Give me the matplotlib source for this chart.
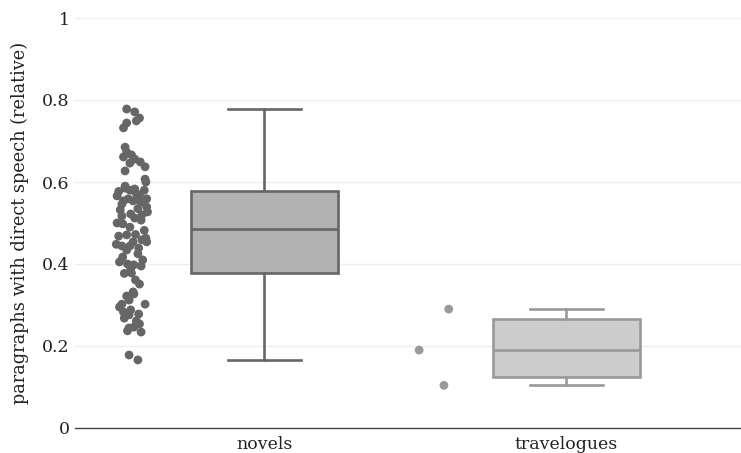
import numpy as np
import matplotlib
matplotlib.use("Agg")
import matplotlib.pyplot as plt

categories = ["novels", "travelogues"]

novels = [0.778, 0.771, 0.756, 0.749, 0.744, 0.732,
          0.685, 0.673, 0.666, 0.661, 0.656, 0.649, 0.637, 0.646, 0.627,
          0.607, 0.600, 0.590, 0.583, 0.580, 0.585, 0.580,
          0.577, 0.568, 0.566, 0.559, 0.559, 0.554, 0.554, 0.554, 0.546, 0.539,
          0.532, 0.527, 0.522, 0.520, 0.517, 0.507, 0.498, 0.490,
          0.572, 0.550, 0.535, 0.512, 0.500,
          0.482, 0.471, 0.468, 0.463, 0.459, 0.454, 0.454, 0.444, 0.444, 0.439,
          0.434, 0.417, 0.410, 0.405, 0.400, 0.398, 0.395, 0.388, 0.377, 0.378,
          0.425, 0.448, 0.472,
          0.361, 0.351, 0.332, 0.322, 0.327, 0.312, 0.302, 0.302, 0.295,
          0.288, 0.283, 0.278, 0.276, 0.268, 0.261, 0.254, 0.246, 0.244, 0.237,
          0.234, 0.178, 0.166]
# horizontal jitter (relative, -1..1)
novels_jitter = [-0.3, 0.2, 0.5, 0.3, -0.3, -0.5,
                 -0.4, -0.3, 0.0, -0.5, 0.2, 0.55, 0.85, -0.1, -0.4,
                 0.85, 0.9, -0.4, 0.2, -0.1, -0.4, 0.8,
                 -0.8, 0.5, -0.9, 0.95, -0.2, -0.5, 0.1, 0.5, -0.6, 0.95,
                 -0.7, 1.0, -0.05, 0.65, -0.6, 0.6, -0.55, -0.1,
                 0.3, 0.75, 0.4, 0.2, -0.9,
                 0.8, -0.3, -0.8, 0.9, 0.65, 0.1, 0.95, -0.6, -0.1, 0.45,
                 -0.3, -0.55, 0.7, -0.75, -0.25, 0.15, 0.6, -0.05, -0.45, 0.0,
                 0.4, -0.95, 0.25,
                 0.25, 0.5, 0.1, -0.3, 0.15, -0.15, -0.6, 0.85, -0.75,
                 -0.05, -0.5, 0.45, -0.15, -0.45, 0.3, 0.5, 0.15, -0.15, -0.25,
                 0.6, -0.15, 0.4]
travelogues = [0.29, 0.19, 0.104]
travelogues_jitter = [0.95, -0.9, 0.65]

colors_line = ["#666666", "#999999"]
colors_fill = ["#b2b2b2", "#cccccc"]
point_colors = ["#666666", "#999999"]

datasets = [novels, travelogues]
jitters = [novels_jitter, travelogues_jitter]

fig = plt.figure(figsize=(7.41, 4.53), dpi=100)
ax = fig.add_axes([75 / 741, 25 / 453, 666 / 741, 410 / 453])

box_w = 0.487
point_off = -0.44
jit_w = 0.053

for i, (d, j) in enumerate(zip(datasets, jitters)):
    arr = np.sort(np.array(d))
    q1, med, q3 = np.percentile(arr, [25, 50, 75], method="hazen")
    iqr = q3 - q1
    lo = arr[arr >= q1 - 1.5 * iqr].min()
    hi = arr[arr <= q3 + 1.5 * iqr].max()
    stats = [dict(med=med, q1=q1, q3=q3, whislo=lo, whishi=hi, fliers=[])]
    lc = colors_line[i]
    ax.bxp(stats, positions=[i], widths=box_w, patch_artist=True,
           showfliers=False,
           boxprops=dict(facecolor=colors_fill[i], edgecolor=lc, linewidth=1.9),
           medianprops=dict(color=lc, linewidth=1.9),
           whiskerprops=dict(color=lc, linewidth=1.9),
           capprops=dict(color=lc, linewidth=1.9),
           capwidths=box_w / 2)
    xs = i + point_off + np.array(j) * jit_w
    ax.scatter(xs, d, s=40, color=point_colors[i], edgecolors="none", zorder=3)

ax.set_xlim(-0.627, 1.578)
ax.set_ylim(0, 1)
ax.set_yticks([0, 0.2, 0.4, 0.6, 0.8, 1])
ax.set_yticklabels(["0", "0.2", "0.4", "0.6", "0.8", "1"])
ax.set_xticks([0, 1])
ax.set_xticklabels(categories)
ax.yaxis.grid(True, color="#eeeeee", linewidth=1)
ax.set_axisbelow(True)
for s in ["top", "right", "left"]:
    ax.spines[s].set_visible(False)
ax.spines["bottom"].set_color("#444444")
ax.spines["bottom"].set_linewidth(1)
ax.tick_params(axis="both", length=0, labelsize=12.5, labelcolor="#222222",
               labelfontfamily="DejaVu Serif")
ax.tick_params(axis="y", pad=4)
ax.tick_params(axis="x", pad=6)
ax.set_ylabel("paragraphs with direct speech (relative)", fontsize=12.8,
              family="DejaVu Serif", color="#222222", labelpad=9)

fig.savefig("out.png", dpi=100)
